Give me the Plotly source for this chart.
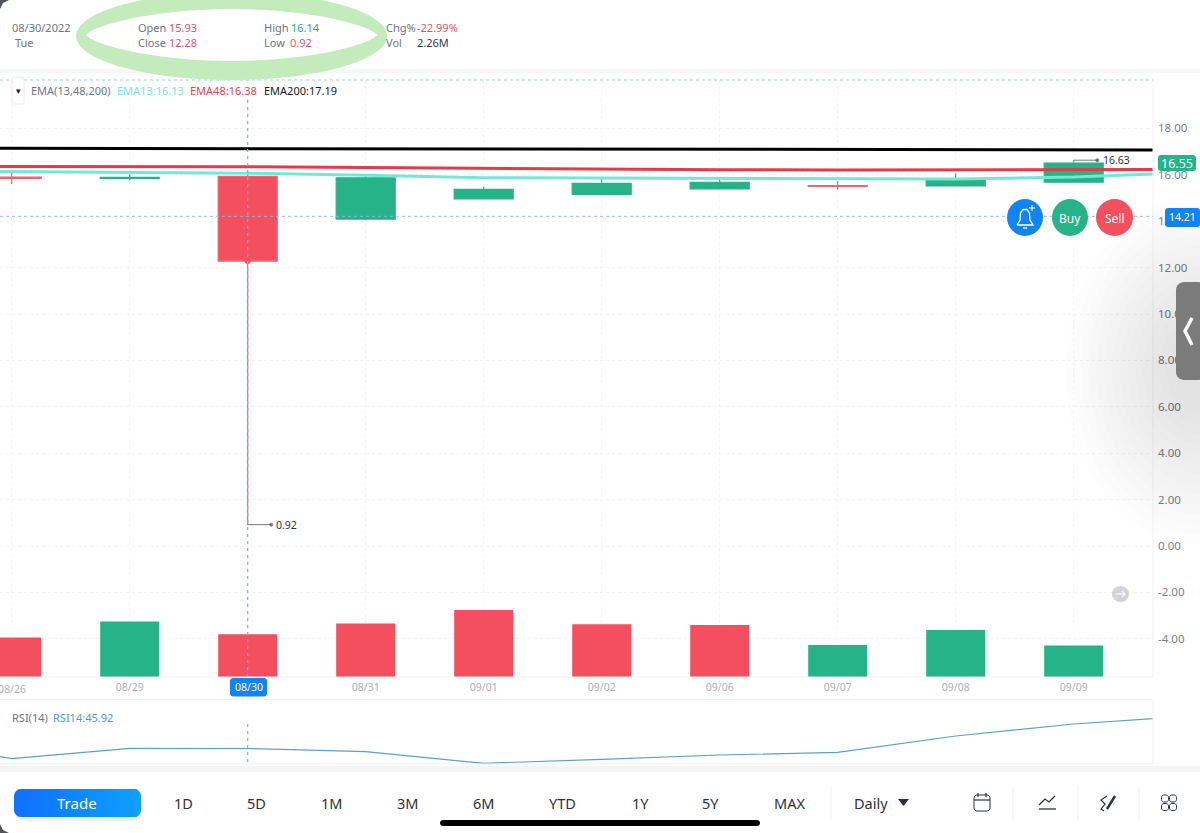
import numpy as np
import plotly.graph_objects as go

# ---------- data ----------
dates = ["08/26", "08/29", "08/30", "08/31", "09/01", "09/02", "09/06", "09/07", "09/08", "09/09"]
opens = [15.90, 15.85, 15.93, 14.09, 14.96, 15.16, 15.39, 15.53, 15.52, 15.68]
closes = [15.85, 15.89, 12.28, 15.87, 15.37, 15.63, 15.67, 15.50, 15.80, 16.50]
highs = [16.12, 16.02, 16.14, 15.95, 15.49, 15.85, 15.86, 15.73, 16.07, 16.63]
lows = [15.60, 15.76, 0.92, 14.05, 14.94, 15.14, 15.37, 15.34, 15.50, 15.66]
volumes = [2.09, 2.94, 2.26, 2.83, 3.55, 2.79, 2.75, 1.69, 2.49, 1.67]
vol_up = [False, True, False, False, False, False, False, True, True, True]
# line series run from one session before the first date to one after the last
line_index = [-1, 0, 1, 2, 3, 4, 5, 6, 7, 8, 9, 10]
ema13 = [16.17, 16.13, 16.11, 16.07, 15.98, 15.87, 15.86, 15.85, 15.82, 15.82, 15.90, 16.10]
ema48 = [16.36, 16.36, 16.37, 16.35, 16.31, 16.27, 16.24, 16.22, 16.21, 16.21, 16.21, 16.23]
ema200 = [17.15, 17.14, 17.14, 17.13, 17.12, 17.11, 17.10, 17.09, 17.09, 17.08, 17.08, 17.07]
rsi = [51.17, 40.82, 46.02, 45.92, 44.32, 38.52, 40.52, 42.67, 44.02, 52.17, 58.17, 62.17]
price_ticks = [-4, -2, 0, 2, 4, 6, 8, 10, 12, 14, 16, 18]

RED, GREEN, BLUE = "#f44f5e", "#26b387", "#0f84f4"
TEAL, GRAY, FONT = "#72e9d8", "#6f7480", "Noto Sans"
W, H = 1200, 833


def px(x):
    return x / W


def py(y):
    return 1 - y / H


def rng_x(p):
    return (p - 11.7) / 118.0


fig = go.Figure()

# ---------- traces ----------
fig.add_trace(go.Bar(x=list(range(len(dates))), y=volumes, width=0.5, yaxis="y2",
                     marker=dict(color=[GREEN if u else RED for u in vol_up], line_width=0)))
fig.add_trace(go.Candlestick(x=list(range(len(dates))), open=opens, high=highs, low=lows, close=closes,
                             increasing=dict(line=dict(color=GREEN, width=1.2), fillcolor=GREEN),
                             decreasing=dict(line=dict(color="#f0626f", width=1.2), fillcolor=RED)))
for vals, col in ((ema200, "#000000"), (ema48, "#e8384a"), (ema13, TEAL)):
    fig.add_trace(go.Scatter(x=line_index, y=vals, mode="lines", line=dict(color=col, width=3)))
fig.add_trace(go.Scatter(x=[2], y=[closes[2]], mode="markers", marker=dict(color=RED, size=6)))
low_i, high_i = lows.index(min(lows)), highs.index(max(highs))
fig.add_trace(go.Scatter(x=[low_i, low_i + 0.2], y=[lows[low_i]] * 2, mode="lines+markers",
                         line=dict(color="#555", width=0.8), marker=dict(size=[0, 3], color="#333")))
fig.add_trace(go.Scatter(x=[high_i, high_i + 0.2], y=[highs[high_i]] * 2, mode="lines+markers",
                         line=dict(color="#555", width=0.8), marker=dict(size=[0, 3], color="#333")))
fig.add_trace(go.Scatter(x=line_index, y=rsi, mode="lines", yaxis="y3", xaxis="x2",
                         line=dict(color="#5a9fd6", width=1.2)))

shapes, ann = [], []


def rect(x0, y0, x1, y1, fill, layer="above", **kw):
    shapes.append(dict(type="rect", xref="paper", yref="paper", x0=px(x0), x1=px(x1), y0=py(y0), y1=py(y1),
                       fillcolor=fill, line_width=0, layer=layer, **kw))


def path_px(points, close=False):
    s = "M" + " L".join(f"{px(a):.5f},{py(b):.5f}" for a, b in points)
    return s + (" Z" if close else "")


def round_rect(x0, y0, x1, y1, r, fill, line=None):
    t = np.linspace(0, np.pi / 2, 6)
    pts = []
    for cx, cy, a in ((x1 - r, y0 + r, -np.pi / 2), (x1 - r, y1 - r, 0), (x0 + r, y1 - r, np.pi / 2), (x0 + r, y0 + r, np.pi)):
        pts += [(cx + r * np.cos(a + u), cy + r * np.sin(a + u)) for u in t]
    shapes.append(dict(type="path", xref="paper", yref="paper", path=path_px(pts, True), fillcolor=fill,
                       line=dict(width=0 if line is None else 1, color=line or fill), layer="above"))


def stroke(points, color, width=1.5, dash=None):
    shapes.append(dict(type="path", xref="paper", yref="paper", path=path_px(points), fillcolor="rgba(0,0,0,0)",
                       line=dict(color=color, width=width, dash=dash or "solid"), layer="above"))


def circle(x0, y0, x1, y1, fill, line=None, lw=0, opacity=1):
    shapes.append(dict(type="circle", xref="paper", yref="paper", x0=px(x0), x1=px(x1), y0=py(y0), y1=py(y1),
                       fillcolor=fill, line=dict(width=lw, color=line or fill), layer="above", opacity=opacity))


def text(x, y, s, color=GRAY, size=11, anchor="left", family=FONT):
    ann.append(dict(xref="paper", yref="paper", x=px(x), y=py(y), text=s, showarrow=False, xanchor=anchor,
                    yanchor="middle", font=dict(color=color, size=size, family=family), borderpad=0, borderwidth=0))


# ---------- panel frames and separators ----------
rect(0, 69, W, 73, "#f6f7f9", layer="below")
rect(0, 766, W, 772, "#f4f4f6", layer="below")
stroke([(0, 699.5), (1153, 699.5), (1153, 764), (0, 764)], "#f1f1f3", 1)
stroke([(1153, 78), (1153, 677), (0, 677)], "#f1f1f3", 1)

# ---------- dashed guide lines ----------
stroke([(0, 80), (1153, 80)], "#8fd3cb", 0.9, "3px,3px")
shapes.append(dict(type="line", xref="paper", yref="y", x0=0, x1=px(1153), y0=14.21, y1=14.21,
                   line=dict(color="#8dbbe6", width=0.9, dash="3px,3px"), layer="above"))
shapes.append(dict(type="line", xref="x", yref="paper", x0=2, x1=2, y0=py(677), y1=py(98),
                   line=dict(color="#86a9e6", width=1.2, dash="3px,4px"), layer="above"))
shapes.append(dict(type="line", xref="x", yref="paper", x0=2, x1=2, y0=py(762), y1=py(722),
                   line=dict(color="#86a9e6", width=1.2, dash="3px,4px"), layer="above"))

# ---------- highlighter ellipse (outer ellipse, inner lens) ----------
th = np.linspace(0, 2 * np.pi, 80)
outer = [(231.5 + 155.5 * np.cos(a), 36 + 44 * np.sin(a)) for a in th]
inner_x = np.linspace(-146, 146, 60)
inner_top = [(231.5 + u, 35 - 26 * (1 - (u / 146) ** 2) ** 0.72) for u in inner_x]
inner_bot = [(231.5 + u, 35 + 26 * (1 - (u / 146) ** 2) ** 0.72) for u in inner_x[::-1]]
shapes.append(dict(type="path", xref="paper", yref="paper",
                   path=path_px(outer, True) + " " + path_px(inner_top + inner_bot, True),
                   fillcolor="#c3ebbb", line_width=0, layer="above"))

# ---------- header text ----------
text(12, 28, "08/30/2022")
text(15, 43, "Tue")
for x, y, s, c in ((138, 28, "Open", GRAY), (169, 28, "15.93", "#e0566a"), (138, 43, "Close", GRAY), (169, 43, "12.28", "#e0566a"),
                   (264, 28, "High", GRAY), (291, 28, "16.14", "#2aa888"), (264, 43, "Low", GRAY), (290, 43, "0.92", "#e0566a"),
                   (386, 28, "Chg%", GRAY), (417, 28, "-22.99%", "#e0566a"), (386, 43, "Vol", GRAY), (417, 43, "2.26M", "#333a45")):
    text(x, y, s, c)

# legend row
round_rect(12, 77, 24, 104, 2, "#ffffff", "#ececf0")
text(18, 90, "▾", "#222", 9, "center")
text(31, 90, "EMA(13,48,200)")
text(117, 90, "EMA13:16.13", TEAL)
text(190, 90, "EMA48:16.38", "#e0475a")
text(264, 90, "EMA200:17.19", "#1a1a1a")
text(12, 717, "RSI(14)")
text(53, 717, "RSI14:45.92", "#4f9bd8")
ann.append(dict(xref="x", yref="y", x=low_i, y=lows[low_i], xshift=26, text="0.92", showarrow=False, xanchor="left",
                font=dict(color="#333", size=10.5, family=FONT)))
ann.append(dict(xref="x", yref="y", x=high_i, y=highs[high_i], xshift=27, text="16.63", showarrow=False, xanchor="left",
                font=dict(color="#333", size=10.5, family=FONT)))
# the first date sits partly off the page edge, so it is placed by hand
ann.append(dict(xref="x", yref="paper", x=0, y=py(688.5), text=dates[0], showarrow=False, xanchor="center", yanchor="middle",
                font=dict(color="#aeb1b8", size=10.5, family=FONT)))

# ---------- right-side shade and handle ----------
for r in np.linspace(1.0, 0.25, 14):
    circle(1200 - 135 * r, 370 - 175 * r, 1200 + 135 * r, 370 + 175 * r, "#000000", opacity=0.008)
round_rect(1176, 282, 1206, 380, 8, "#7b7b7b")
stroke([(1192, 318), (1185, 331), (1192, 345)], "#ffffff", 3.5)

# ---------- price tags ----------
round_rect(1158, 155, 1196, 171, 3, GREEN)
text(1177, 163.5, "16.55", "#ffffff", 12.5, "center")
round_rect(1165, 208, 1200, 227, 3, BLUE)
text(1182.5, 217.5, "14.21", "#ffffff", 10.5, "center")
round_rect(230, 678, 267, 696.5, 3, BLUE)
text(248.5, 687, dates[2], "#ffffff", 10.5, "center")

# ---------- action buttons ----------
circle(1007, 199, 1043, 236, BLUE)
circle(1052, 199, 1088, 236, GREEN)
circle(1096, 199, 1133, 236, RED)
text(1070, 218, "Buy", "#ffffff", 12, "center")
text(1114.5, 218, "Sell", "#ffffff", 12, "center")
stroke([(1017, 225), (1033, 225), (1030, 220), (1029.5, 213), (1027, 209.5), (1023, 209.5), (1020.5, 213), (1020, 220), (1017, 225)], "#ffffff", 1.3)
stroke([(1023, 228), (1027, 228)], "#ffffff", 1.3)
stroke([(1029, 208), (1035, 208)], "#ffffff", 1.1)
stroke([(1032, 205), (1032, 211)], "#ffffff", 1.1)
circle(1112, 586, 1129, 602, "#d2d3d6")
stroke([(1116, 594), (1125, 594)], "#ffffff", 1.1)
stroke([(1122, 591), (1125, 594), (1122, 597)], "#ffffff", 1.1)

# ---------- bottom toolbar ----------
round_rect(16, 794, 139, 821, 8, "rgba(20,150,255,0.10)")
round_rect(14, 789, 30, 817, 7, "#0f74fb")
round_rect(125, 789, 141, 817, 7, "#109eff")
edges = np.arange(22, 134, 3)
for a, t in zip(edges, np.linspace(0, 1, len(edges))):
    col = f"rgb({15 + int(t)},{int(116 + 42 * t)},{int(251 + 4 * t)})"
    rect(a, 789, a + 4, 817, col)
text(77, 803, "Trade", "#ffffff", 15, "center")
DARK = "#2b3140"
for x, s in ((183, "1D"), (256.5, "5D"), (331, "1M"), (407, "3M"), (483, "6M"), (562, "YTD"), (640, "1Y"), (710, "5Y"), (789.5, "MAX")):
    text(x, 803, s, DARK, 14.5, "center")
text(871, 803, "Daily", DARK, 14.5, "center")
shapes.append(dict(type="path", xref="paper", yref="paper", path=path_px([(898, 799), (909, 799), (903.5, 806)], True),
                   fillcolor=DARK, line_width=0, layer="above"))
for x in (831, 1013, 1078, 1139):
    stroke([(x, 786), (x, 820)], "#f1f1f3", 1)
# calendar
round_rect(974, 795, 990, 811, 3, "rgba(0,0,0,0)", DARK)
stroke([(974, 800), (990, 800)], DARK, 1.2)
stroke([(978, 793), (978, 797)], DARK, 1.2)
stroke([(986, 793), (986, 797)], DARK, 1.2)
# indicator
stroke([(1039, 805), (1045, 799), (1049, 802), (1055, 796)], DARK, 1.3)
stroke([(1039, 809), (1056, 809)], DARK, 1.3)
# draw
stroke([(1107, 796), (1101, 800), (1105, 804), (1101, 809), (1104, 811)], DARK, 1.2)
stroke([(1107, 809), (1115, 796)], DARK, 2.4)
# grid of four
for cx, cy in ((1165, 798.5), (1173, 798.5), (1165, 807), (1173, 807)):
    round_rect(cx - 3.5, cy - 3.5, cx + 3.5, cy + 3.5, 2.5, "rgba(0,0,0,0)", DARK)
round_rect(440, 820, 760, 826, 3, "#000000")

# device corners
shapes.append(dict(type="path", xref="paper", yref="paper",
                   path=path_px([(0, 0), (9, 0), (3, 3), (0, 9)], True), fillcolor="#50525a", line_width=0, layer="above"))
shapes.append(dict(type="path", xref="paper", yref="paper",
                   path=path_px([(0, 833), (9, 833), (3, 830), (0, 824)], True), fillcolor="#50525a", line_width=0, layer="above"))

# ---------- layout ----------
x_range = [rng_x(0), rng_x(1153)]
tick_labels = ["" if i in (0, 2) else d for i, d in enumerate(dates)]
fig.update_layout(
    width=W, height=H, margin=dict(l=0, r=0, t=0, b=0), paper_bgcolor="#ffffff", plot_bgcolor="#ffffff",
    showlegend=False, hovermode=False, boxgap=0.5, boxgroupgap=0, shapes=shapes, annotations=ann,
    font=dict(family=FONT),
    xaxis=dict(domain=[0, px(1153)], range=x_range, tickmode="array", tickvals=list(range(len(dates))), ticktext=tick_labels,
               tickfont=dict(size=10.5, color="#aeb1b8"), ticks="", ticklabelstandoff=2, showgrid=True, gridcolor="#f4f4f6", griddash="dot",
               zeroline=False, showline=False, rangeslider=dict(visible=False), anchor="y", fixedrange=True),
    yaxis=dict(domain=[py(677), py(80)], range=[(546 - 677) / 23.2, (546 - 80) / 23.2], side="right", anchor="x",
               tickmode="array", tickvals=price_ticks, ticktext=[f"{v:.2f}" for v in price_ticks],
               tickfont=dict(size=11.5, color="#7c8089"), ticks="", ticklabelstandoff=4, showgrid=True, gridcolor="#f3f3f5", griddash="dot",
               zeroline=False, showline=False, fixedrange=True),
    yaxis2=dict(domain=[py(677), py(80)], range=[0, 31.6], overlaying="y", visible=False, fixedrange=True),
    xaxis2=dict(domain=[0, px(1153)], range=x_range, anchor="y3", visible=False, fixedrange=True),
    yaxis3=dict(domain=[py(765), py(700)], range=[37.67, 70.17], anchor="x2", visible=False, fixedrange=True),
)

fig.write_html("out.html", config=dict(displayModeBar=False),
               post_script="document.body.style.margin='0';document.body.style.overflow='hidden';")
